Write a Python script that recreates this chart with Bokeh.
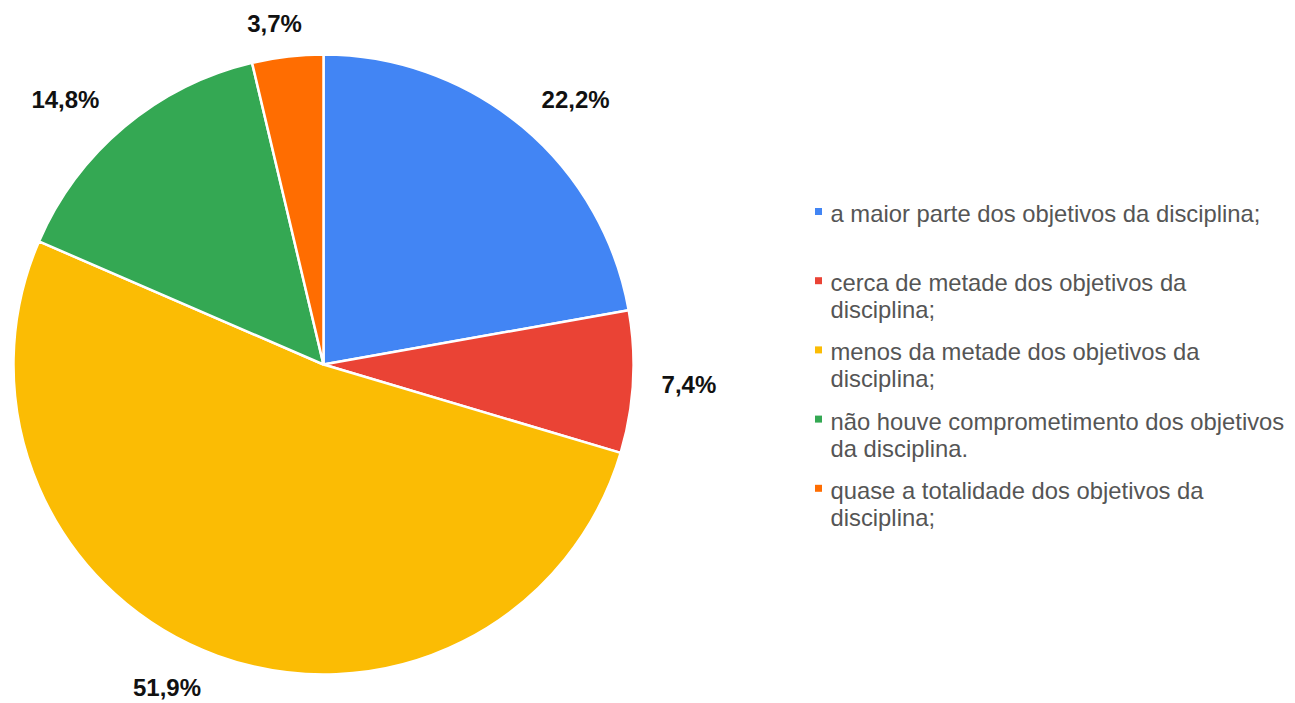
import math
import numpy as np
from bokeh.plotting import figure
from bokeh.models import Range1d, ColumnDataSource
from bokeh.core.properties import value
from bokeh.embed import file_html
from bokeh.resources import INLINE

# ---- data ----
categories = [
    "a maior parte dos objetivos da disciplina;",
    "cerca de metade dos objetivos da disciplina;",
    "menos da metade dos objetivos da disciplina;",
    "não houve comprometimento dos objetivos da disciplina.",
    "quase a totalidade dos objetivos da disciplina;",
]
legend_lines = [
    ["a maior parte dos objetivos da disciplina;"],
    ["cerca de metade dos objetivos da", "disciplina;"],
    ["menos da metade dos objetivos da", "disciplina;"],
    ["não houve comprometimento dos objetivos", "da disciplina."],
    ["quase a totalidade dos objetivos da", "disciplina;"],
]
percentages = [22.2, 7.4, 51.9, 14.8, 3.7]
colors = ["#4285F4", "#EA4335", "#FBBC04", "#34A853", "#FF6D01"]

W, H = 1295, 703

def sx(x):  # screen px -> data x
    return x

def sy(y):  # screen px -> data y
    return H - y

cx, cy, R = sx(323), sy(364), 310

p = figure(width=W, height=H, output_backend="svg", toolbar_location=None,
           x_range=Range1d(0, W), y_range=Range1d(0, H), min_border=0)
p.axis.visible = False
p.grid.visible = False
p.outline_line_color = None
p.background_fill_color = "white"
p.border_fill_color = "white"

vals = np.array(percentages, dtype=float)
frac = vals / vals.sum()
cum_end = np.cumsum(frac)
cum_start = cum_end - frac
start_angle = math.pi / 2 - 2 * math.pi * cum_end
end_angle = math.pi / 2 - 2 * math.pi * cum_start

src = ColumnDataSource(dict(start=start_angle, end=end_angle, color=colors, cat=categories))
p.wedge(x=cx, y=cy, radius=R, start_angle="start", end_angle="end",
        direction="anticlock", fill_color="color", line_color="white", line_width=2.5,
        source=src)

# slice labels
lx, ly, lt = [], [], []
for i, pct in enumerate(percentages):
    mid = math.pi / 2 - 2 * math.pi * (cum_start[i] + frac[i] / 2)
    c, s = math.cos(mid), math.sin(mid)
    label = f"{pct:.1f}".replace(".", ",") + "%"
    half = 7 * len(label)
    ax = cx + 338 * c
    ay = cy + 335 * s
    lx.append(ax + half * max(-1, min(1, 3 * c)) + (-6 if c < -0.2 else 0))
    ly.append(ay + 8 * max(-1, min(1, 3 * s)))
    lt.append(label)
p.text(x=lx, y=ly, text=lt, text_font=value("Liberation Sans"), text_font_style="bold",
       text_font_size="24px", text_color="#111111", text_align="center",
       text_baseline="middle")

# legend
mx, my = [], []
tx, ty, tt = [], [], []
for i, lines in enumerate(legend_lines):
    y0 = sy(213 + i * 69.2)
    mx.append(sx(818))
    my.append(y0 + 2)
    for j, line in enumerate(lines):
        tx.append(sx(830))
        ty.append(y0 - j * 27)
        tt.append(line)
p.scatter(x=mx, y=my, marker="square", size=7, fill_color=colors, line_color=None)
p.text(x=tx, y=ty, text=tt, text_font=value("Liberation Sans"), text_font_size="23.8px",
       text_color="#555555", text_align="left", text_baseline="middle")

open("out.html", "w").write(file_html(p, INLINE))
